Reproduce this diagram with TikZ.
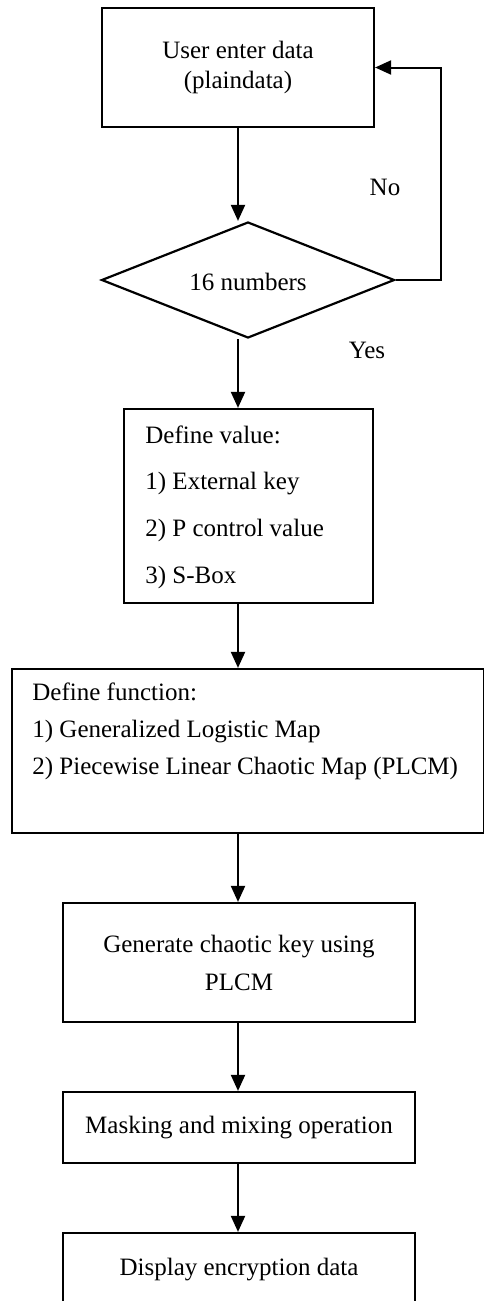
\documentclass[tikz,border=0pt]{standalone}
\usepackage{fontspec}
\setmainfont{Liberation Serif}
\usetikzlibrary{shapes.geometric,arrows.meta}
\begin{document}
\begin{tikzpicture}[x=0.5pt,y=-0.5pt,
  every node/.style={font=\fontsize{12.5}{15}\selectfont},
  box/.style={draw,line width=1.1pt,inner sep=0pt,align=center},
  lbl/.style={inner sep=0pt},
  flow/.style={line width=1pt,-{Triangle[width=7pt,length=8pt]}}]
\useasboundingbox (0,0) rectangle (483,1301);

% column of the vertical connectors and the return line
\coordinate (ax) at (238,0);
\coordinate (loopx) at (441,0);

% process steps
\node[box,minimum width=136pt,minimum height=59.5pt] (box1) at (238,67.5)
  {User enter data\\(plaindata)};
\node[draw,diamond,line width=1.1pt,inner sep=0pt,aspect=2.5,
      minimum width=146.5pt,minimum height=58pt] (dia) at (248,280) {};
\node[lbl] (diatext) at (248,282) {16 numbers};

\node[box,minimum width=124.5pt,minimum height=97pt] (box2) at (248.5,506) {};
\node[lbl,anchor=west,align=left,font=\fontsize{12.5}{23.3}\selectfont] (t2) at (145,507)
  {Define value:\\1) External key\\2) P control value\\3) S-Box};

\node[box,minimum width=236pt,minimum height=82pt] (box3) at (248,751) {};
\node[lbl,anchor=west,align=left,font=\fontsize{12.5}{18.5}\selectfont] (t3) at (32,731)
  {Define function:\\1) Generalized Logistic Map\\2) Piecewise Linear Chaotic Map (PLCM)};

\node[box,minimum width=176pt,minimum height=59.5pt,font=\fontsize{12.5}{19}\selectfont] (box4) at (239,962.5)
  {Generate chaotic key using\\PLCM};
\node[box,minimum width=176pt,minimum height=35.5pt] (box5) at (239,1127.5)
  {Masking and mixing operation};
\node[box,minimum width=176pt,minimum height=37pt] (box6) at (239,1270)
  {Display encryption data};

% decision labels
\node[lbl] (no) at (385,187) {No};
\node[lbl] (yes) at (367,350) {Yes};

% connectors
\draw[flow] (box1.south -| ax) -- (dia.north -| ax);
\draw[flow] (dia.south -| ax) -- (box2.north -| ax);
\draw[flow] (dia.east) -- (dia.east -| loopx) |- (box1.east);
\draw[flow] (box2.south -| ax) -- (box3.north -| ax);
\draw[flow] (box3.south -| ax) -- (box4.north -| ax);
\draw[flow] (box4.south -| ax) -- (box5.north -| ax);
\draw[flow] (box5.south -| ax) -- (box6.north -| ax);
\end{tikzpicture}
\end{document}
